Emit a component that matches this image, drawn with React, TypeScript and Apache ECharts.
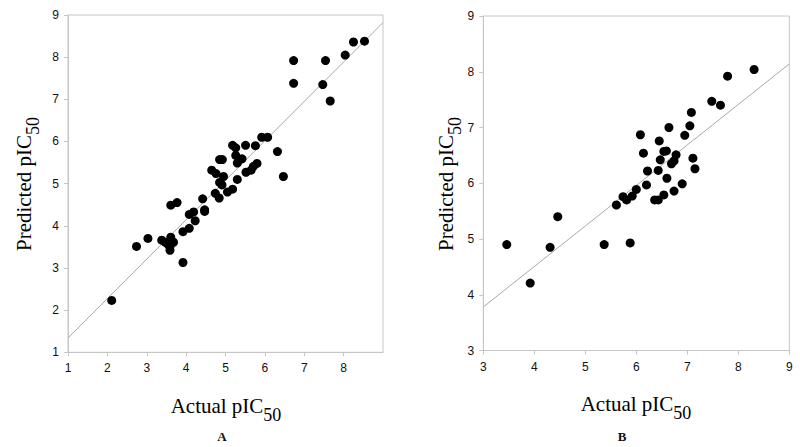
import React, { useEffect, useRef } from "react";
import * as echarts from "echarts";

// Panel A: actual vs predicted pIC50
const pointsA: [number, number][] = [
  [2.11, 2.23], [2.74, 3.51], [3.03, 3.70], [3.38, 3.66], [3.47, 3.61],
  [3.55, 3.55], [3.59, 3.51], [3.59, 3.42], [3.61, 3.73], [3.68, 3.61],
  [3.61, 4.49], [3.77, 4.55], [3.92, 3.86], [3.92, 3.13], [4.08, 3.94],
  [4.08, 4.27], [4.19, 4.33], [4.23, 4.12], [4.47, 4.38], [4.47, 4.34],
  [4.42, 4.64], [4.74, 4.77], [4.84, 4.66], [5.05, 4.80], [5.18, 4.87],
  [4.65, 5.32], [4.76, 5.24], [4.95, 5.17], [4.85, 5.03], [4.91, 4.97],
  [5.30, 5.10], [4.85, 5.57], [4.92, 5.57], [5.30, 5.49], [5.42, 5.59],
  [5.26, 5.67], [5.18, 5.91], [5.26, 5.85], [5.51, 5.91], [5.76, 5.90],
  [5.52, 5.27], [5.65, 5.32], [5.71, 5.41], [5.80, 5.48], [5.92, 6.10],
  [6.07, 6.10], [6.32, 5.76], [6.47, 5.17], [6.73, 7.38], [6.73, 7.92],
  [7.47, 7.35], [7.54, 7.92], [7.66, 6.96], [8.04, 8.05], [8.25, 8.36],
  [8.53, 8.38],
];
const fitA: [number, number][] = [[1, 1.34], [9, 8.82]];

// Panel B
const pointsB: [number, number][] = [
  [3.46, 4.90], [3.92, 4.21], [4.31, 4.85], [4.46, 5.40], [5.37, 4.90],
  [5.88, 4.93], [5.61, 5.61], [5.74, 5.76], [5.81, 5.70], [5.92, 5.77],
  [6.00, 5.89], [6.20, 5.97], [6.36, 5.70], [6.43, 5.70], [6.54, 5.79],
  [6.74, 5.86], [6.60, 6.09], [6.90, 5.99], [6.22, 6.22], [6.43, 6.23],
  [7.15, 6.26], [6.47, 6.42], [6.69, 6.35], [6.74, 6.40], [6.78, 6.51],
  [7.11, 6.45], [6.14, 6.54], [6.54, 6.57], [6.59, 6.58], [6.45, 6.76],
  [6.08, 6.87], [6.95, 6.86], [6.64, 7.00], [7.05, 7.03], [7.08, 7.27],
  [7.48, 7.47], [7.65, 7.40], [7.79, 7.92], [8.31, 8.04],
];
const fitB: [number, number][] = [[3, 3.78], [9, 8.14]];

const axisRangeA = { min: 1, max: 9 };
const axisRangeB = { min: 3, max: 9 };
const xLabel = "Actual pIC";
const yLabel = "Predicted pIC";
const subLabel = "50";
const panelTitles = ["A", "B"];

const AXIS_GRAY = "#c6c6c6";
const FIT_GRAY = "#a8a8a8";

function axisCommon(range: { min: number; max: number }, isX: boolean, hideMax = false) {
  return {
    type: "value",
    min: range.min,
    max: range.max,
    interval: 1,
    splitLine: { show: false },
    axisLine: { show: true, onZero: false, lineStyle: { color: AXIS_GRAY, width: 1 } },
    axisTick: { show: true, length: 4, lineStyle: { color: AXIS_GRAY } },
    axisLabel: {
      color: "#111",
      fontFamily: "Liberation Sans",
      fontSize: 12,
      margin: isX ? 10 : 9,
      showMaxLabel: !hideMax,
    },
  };
}

const richLabel = {
  m: { fontFamily: "Liberation Serif", fontSize: 21, color: "#111", lineHeight: 24, verticalAlign: "middle" },
  s: { fontFamily: "Liberation Serif", fontSize: 18, color: "#111", lineHeight: 36, verticalAlign: "bottom" },
};

export default function App() {
  const ref = useRef<HTMLDivElement>(null);
  useEffect(() => {
    if (!ref.current) return;
    const chart = echarts.init(ref.current, null, { renderer: "svg" });
    const scatterStyle = { color: "#000", opacity: 1 };
    chart.setOption({
      animation: false,
      backgroundColor: "#fff",
      grid: [
        { left: 68, top: 15, width: 315, height: 337.3, show: true, borderColor: AXIS_GRAY, borderWidth: 1, containLabel: false },
        { left: 483.3, top: 16, width: 306, height: 334.5, show: true, borderColor: AXIS_GRAY, borderWidth: 1, containLabel: false },
      ],
      xAxis: [
        { ...axisCommon(axisRangeA, true, true), gridIndex: 0 },
        { ...axisCommon(axisRangeB, true), gridIndex: 1 },
      ],
      yAxis: [
        { ...axisCommon(axisRangeA, false), gridIndex: 0 },
        { ...axisCommon(axisRangeB, false), gridIndex: 1 },
      ],
      series: [
        {
          type: "line", xAxisIndex: 0, yAxisIndex: 0, data: fitA, showSymbol: false, symbol: "none",
          lineStyle: { color: FIT_GRAY, width: 1 }, silent: true, z: 1,
        },
        {
          type: "scatter", xAxisIndex: 0, yAxisIndex: 0, data: pointsA, symbolSize: 9,
          itemStyle: scatterStyle, z: 2,
        },
        {
          type: "line", xAxisIndex: 1, yAxisIndex: 1, data: fitB, showSymbol: false, symbol: "none",
          lineStyle: { color: FIT_GRAY, width: 1 }, silent: true, z: 1,
        },
        {
          type: "scatter", xAxisIndex: 1, yAxisIndex: 1, data: pointsB, symbolSize: 9,
          itemStyle: scatterStyle, z: 2,
        },
      ],
      graphic: [
        {
          type: "text", x: 226, y: 406,
          style: { text: `{m|${xLabel}}{s|${subLabel}}`, rich: richLabel, align: "center", verticalAlign: "middle" },
        },
        {
          type: "text", x: 636, y: 404,
          style: { text: `{m|${xLabel}}{s|${subLabel}}`, rich: richLabel, align: "center", verticalAlign: "middle" },
        },
        {
          type: "text", x: 24, y: 184, rotation: Math.PI / 2,
          style: { text: `{m|${yLabel}}{s|${subLabel}}`, rich: richLabel, align: "center", verticalAlign: "middle" },
        },
        {
          type: "text", x: 446, y: 184, rotation: Math.PI / 2,
          style: { text: `{m|${yLabel}}{s|${subLabel}}`, rich: richLabel, align: "center", verticalAlign: "middle" },
        },
        {
          type: "text", x: 222, y: 436,
          style: { text: panelTitles[0], fontFamily: "Liberation Serif", fontWeight: "bold", fontSize: 13, fill: "#111", align: "center", verticalAlign: "middle" },
        },
        {
          type: "text", x: 622, y: 436,
          style: { text: panelTitles[1], fontFamily: "Liberation Serif", fontWeight: "bold", fontSize: 13, fill: "#111", align: "center", verticalAlign: "middle" },
        },
      ],
    });
    return () => chart.dispose();
  }, []);
  return (
    <div
      ref={ref}
      style={{ position: "fixed", left: 0, top: 0, width: 800, height: 447, background: "#fff" }}
    />
  );
}
